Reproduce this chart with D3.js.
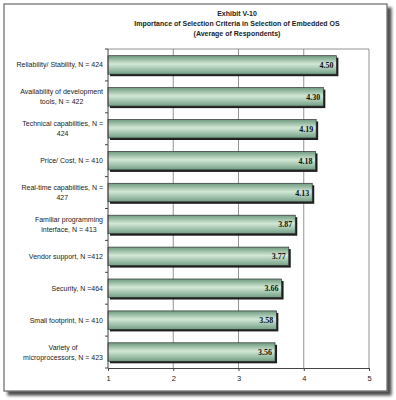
<!DOCTYPE html>
<html lang="en">
<head>
<meta charset="UTF-8">
<title>Exhibit V-10</title>
<script src="https://d3js.org/d3.v7.min.js"></script>
<style>
  body { margin: 0; background: #fff; }
  svg { display: block; }
  .cat { font-family: Arial, "Liberation Sans", sans-serif; font-size: 7px; fill: #222; }
  .title { font-family: Arial, "Liberation Sans", sans-serif; font-size: 7px; font-weight: bold; fill: #222; }
  .val { font-family: "Liberation Serif", "Times New Roman", serif; font-size: 8px; font-weight: bold; fill: #111; }
  .tick text { font-family: Arial, "Liberation Sans", sans-serif; font-size: 7.5px; fill: #222; }
</style>
</head>
<body>
<svg id="chart" width="396" height="400"></svg>
<script>
'use strict';

// Chart data
const categories = [
  ['Reliability/ Stability, N = 424'],
  ['Availability of development', 'tools, N = 422'],
  ['Technical capabilities, N =', '424'],
  ['Price/ Cost, N = 410'],
  ['Real-time capabilities, N =', '427'],
  ['Familiar programming', 'interface, N = 413'],
  ['Vendor support, N =412'],
  ['Security, N =464'],
  ['Small footprint, N = 410'],
  ['Variety of', 'microprocessors, N = 423']
];
const values = [4.50, 4.30, 4.19, 4.18, 4.13, 3.87, 3.77, 3.66, 3.58, 3.56];
const xTicks = [1, 2, 3, 4, 5];
const titleLines = ['Exhibit V-10', 'Importance of Selection Criteria in Selection of Embedded OS', '(Average of Respondents)'];

const svg = d3.select('#chart');
const plot = { left: 108, right: 369, top: 49, bottom: 368 };

// Outer frame with drop shadow
const defs = svg.append('defs');
const sh = defs.append('filter').attr('id', 'frameShadow').attr('x', '-5%').attr('y', '-5%').attr('width', '115%').attr('height', '115%');
sh.append('feGaussianBlur').attr('in', 'SourceAlpha').attr('stdDeviation', 1.6);
sh.append('feOffset').attr('dx', 3.5).attr('dy', 3.5).attr('result', 'off');
sh.append('feComponentTransfer').append('feFuncA').attr('type', 'linear').attr('slope', 0.7);
const m = sh.append('feMerge');
m.append('feMergeNode');
m.append('feMergeNode').attr('in', 'SourceGraphic');

svg.append('rect')
  .attr('x', 4).attr('y', 4).attr('width', 383).attr('height', 387)
  .attr('fill', '#fff').attr('stroke', '#666').attr('stroke-width', 1.2)
  .attr('filter', 'url(#frameShadow)');

// Bar gradient (cylinder look)
const grad = defs.append('linearGradient').attr('id', 'barGrad').attr('x1', 0).attr('y1', 0).attr('x2', 0).attr('y2', 1);
grad.append('stop').attr('offset', '0%').attr('stop-color', '#6e9a7f');
grad.append('stop').attr('offset', '45%').attr('stop-color', '#d2e8d6');
grad.append('stop').attr('offset', '100%').attr('stop-color', '#739f85');

// Title
svg.append('g').selectAll('text')
  .data(titleLines)
  .join('text')
  .attr('class', 'title')
  .attr('x', 237)
  .attr('y', (d, i) => 16 + i * 10)
  .attr('text-anchor', 'middle')
  .text(d => d);

const x = d3.scaleLinear().domain([1, 5]).range([plot.left, plot.right]);
const y = d3.scaleBand()
  .domain(d3.range(categories.length))
  .range([plot.top, plot.bottom])
  .paddingInner(0.42)
  .paddingOuter(0.21);

// Gridlines
svg.append('g').selectAll('line')
  .data(xTicks.slice(1))
  .join('line')
  .attr('x1', d => x(d)).attr('x2', d => x(d))
  .attr('y1', plot.top).attr('y2', plot.bottom)
  .attr('stroke', '#777').attr('stroke-width', 0.8);

// Plot box top
svg.append('line')
  .attr('x1', plot.left).attr('x2', plot.right)
  .attr('y1', plot.top).attr('y2', plot.top)
  .attr('stroke', '#777').attr('stroke-width', 0.8);

// Bars
const step = y.step();
const bars = svg.append('g');
bars.selectAll('rect.shadow')
  .data(values)
  .join('rect')
  .attr('class', 'shadow')
  .attr('x', x(1) + 2)
  .attr('y', (d, i) => y(i) + 2)
  .attr('width', d => x(d) - x(1))
  .attr('height', y.bandwidth())
  .attr('fill', '#1e1e1e');
bars.selectAll('rect.bar')
  .data(values)
  .join('rect')
  .attr('class', 'bar')
  .attr('x', x(1))
  .attr('y', (d, i) => y(i))
  .attr('width', d => x(d) - x(1))
  .attr('height', y.bandwidth())
  .attr('fill', 'url(#barGrad)')
  .attr('stroke', '#333').attr('stroke-width', 0.7);

bars.selectAll('text')
  .data(values)
  .join('text')
  .attr('class', 'val')
  .attr('x', d => x(d) - 3)
  .attr('y', (d, i) => y(i) + y.bandwidth() / 2 + 3)
  .attr('text-anchor', 'end')
  .text(d => d.toFixed(2));

// Y axis line and boundary ticks
const yAxis = svg.append('g');
yAxis.append('line')
  .attr('x1', plot.left).attr('x2', plot.left)
  .attr('y1', plot.top).attr('y2', plot.bottom)
  .attr('stroke', '#444').attr('stroke-width', 1);
const bounds = d3.range(categories.length + 1).map(i => plot.top + i * (plot.bottom - plot.top) / categories.length);
yAxis.selectAll('line.tk')
  .data(bounds)
  .join('line')
  .attr('class', 'tk')
  .attr('x1', plot.left - 3).attr('x2', plot.left)
  .attr('y1', d => d).attr('y2', d => d)
  .attr('stroke', '#444');

// Category labels
const labels = svg.append('g').selectAll('text')
  .data(categories)
  .join('text')
  .attr('class', 'cat')
  .attr('text-anchor', 'end')
  .attr('y', (d, i) => y(i) + y.bandwidth() / 2 + 2.5 - (d.length - 1) * 5);
labels.selectAll('tspan')
  .data(d => d.map((t, j) => ({ t, j, n: d.length })))
  .join('tspan')
  .attr('x', d => d.j === 0 || d.t.length > 6 ? 103 : 103 - (d.t.length > 3 ? 0 : 0))
  .attr('dy', d => d.j === 0 ? 0 : 10)
  .text(d => d.t);

// Center short second lines (e.g. "424") under the first line, as in the original
labels.each(function() {
  const ts = d3.select(this).selectAll('tspan').nodes();
  if (ts.length === 2 && ts[1].textContent.length <= 3) {
    const w0 = ts[0].getComputedTextLength();
    d3.select(ts[1]).attr('text-anchor', 'middle').attr('x', 103 - w0 / 2);
  } else if (ts.length === 2) {
    const w0 = ts[0].getComputedTextLength();
    const w1 = ts[1].getComputedTextLength();
    const w = Math.max(w0, w1);
    ts.forEach(t => d3.select(t).attr('text-anchor', 'middle').attr('x', 103 - w / 2));
  }
});

// X axis
svg.append('g')
  .attr('transform', `translate(0,${plot.bottom})`)
  .call(d3.axisBottom(x).tickValues(xTicks).tickSize(3).tickPadding(5).tickFormat(d3.format('d')))
  .call(g => g.select('.domain').attr('stroke', '#444'))
  .call(g => g.selectAll('.tick line').attr('stroke', '#444'));
</script>
</body>
</html>
